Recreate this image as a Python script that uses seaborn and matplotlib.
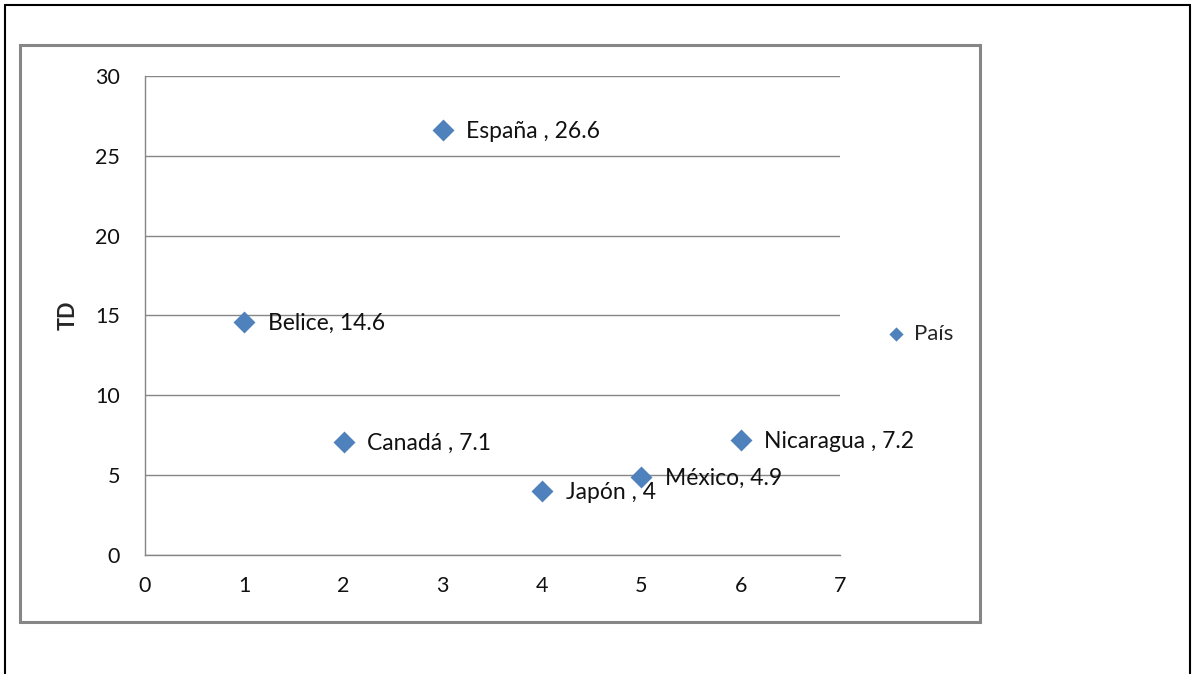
import matplotlib
matplotlib.use("Agg")
import matplotlib.pyplot as plt
from matplotlib.lines import Line2D
from matplotlib.patches import Rectangle
import seaborn as sns
import pandas as pd

# data
paises = ["Belice", "Canadá", "España", "Japón", "México", "Nicaragua"]
x_vals = [1, 2, 3, 4, 5, 6]
td_vals = [14.6, 7.1, 26.6, 4, 4.9, 7.2]
etiquetas = ["Belice, 14.6", "Canadá , 7.1", "España , 26.6",
             "Japón , 4", "México, 4.9", "Nicaragua , 7.2"]
x_ticks = [0, 1, 2, 3, 4, 5, 6, 7]
y_ticks = [0, 5, 10, 15, 20, 25, 30]

df = pd.DataFrame({"x": x_vals, "TD": td_vals, "pais": paises})

sns.set_style("white")
plt.rcParams["font.family"] = ["Lato", "DejaVu Sans"]

blue = "#4F81BD"
grey = "#868686"
fs = 15.5

fig = plt.figure(figsize=(11.95, 6.74), dpi=100)
ax = fig.add_axes([0.1213, 0.1766, 0.5816, 0.7107])

# outer black frame (open at the bottom) and grey chart-area box
fig.add_artist(Line2D([0.0045, 0.0045], [0, 0.9925], color="black", lw=1.5, transform=fig.transFigure))
fig.add_artist(Line2D([0.0045, 0.9955], [0.9925, 0.9925], color="black", lw=1.5, transform=fig.transFigure))
fig.add_artist(Line2D([0.9955, 0.9955], [0, 0.9925], color="black", lw=1.5, transform=fig.transFigure))
fig.add_artist(Rectangle((20 / 1195, 1 - 622 / 674), 960 / 1195, 577 / 674,
                         fill=False, edgecolor=grey, lw=2.2, transform=fig.transFigure))

sns.scatterplot(data=df, x="x", y="TD", marker="D", color=blue, s=125,
                linewidth=0, ax=ax, label="País", zorder=3)

for xv, yv, txt in zip(x_vals, td_vals, etiquetas):
    ax.annotate(txt, (xv, yv), xytext=(17, -1), textcoords="offset points",
                ha="left", va="center", fontsize=16.5, color="#111111", zorder=4)

ax.set_xlim(0, 7)
ax.set_ylim(0, 30)
ax.set_xticks(x_ticks)
ax.set_yticks(y_ticks)
ax.yaxis.grid(True, color=grey, lw=1)
ax.set_axisbelow(True)
for side in ["top", "right"]:
    ax.spines[side].set_visible(False)
for side in ["left", "bottom"]:
    ax.spines[side].set_color(grey)
    ax.spines[side].set_linewidth(1)
ax.tick_params(axis="both", direction="out", length=6, color=grey, width=1,
               labelsize=fs, labelcolor="#111111", pad=6)
ax.tick_params(axis="x", pad=9)
ax.tick_params(axis="y", pad=12)
ax.set_xlabel("")
ax.set_ylabel("TD", fontsize=fs, fontweight="bold", labelpad=12)

leg = ax.legend(loc="center left", bbox_to_anchor=(1.068, 0.461), frameon=False,
                fontsize=16, handlelength=0.8, handletextpad=0.4,
                borderpad=0, borderaxespad=0, markerscale=0.65)

fig.savefig("out.png", dpi=100)
